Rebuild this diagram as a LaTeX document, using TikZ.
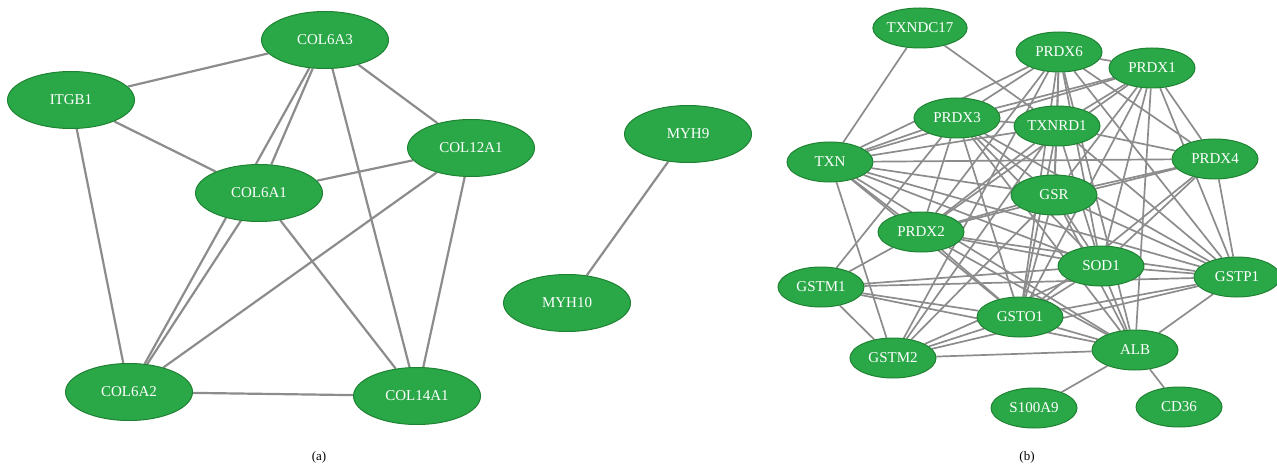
\documentclass[tikz,border=0pt]{standalone}
\usepackage{fontspec}
\setmainfont{Liberation Serif}
\usetikzlibrary{shapes.geometric,backgrounds}
\definecolor{ngreen}{RGB}{42,168,72}
\definecolor{nborder}{RGB}{30,130,50}
\definecolor{egray}{RGB}{140,140,140}
\tikzset{
 gA/.style={ellipse, fill=ngreen, draw=nborder, line width=1pt, minimum width=127pt, minimum height=57pt, inner sep=0pt, text=white, font=\fontsize{15}{15}\selectfont},
 gB/.style={ellipse, fill=ngreen, draw=nborder, line width=1pt, minimum width=86pt, minimum height=40pt, inner sep=0pt, text=white, font=\fontsize{15}{15}\selectfont},
 edgeA/.style={draw=egray, line width=2.2pt},
 edgeB/.style={draw=egray, line width=1.7pt},
 caplabel/.style={font=\fontsize{13}{13}\selectfont, text=black, inner sep=0pt}
}
\begin{document}
\begin{tikzpicture}[x=1pt,y=-1pt]
\useasboundingbox (0,0) rectangle (1277,468);
% ---- panel (a)
\node[gA] (itgb1) at (71,100) {ITGB1};
\node[gA] (col6a3) at (325,40) {COL6A3};
\node[gA] (col12a1) at (471,148) {COL12A1};
\node[gA] (col6a1) at (259,193) {COL6A1};
\node[gA] (col6a2) at (129,392) {COL6A2};
\node[gA] (col14a1) at (417,396) {COL14A1};
\node[gA] (myh9) at (688,134) {MYH9};
\node[gA] (myh10) at (567,303) {MYH10};
\node[caplabel] (capa) at (319,457) {(a)};
% ---- panel (b)
\node[gB] (txndc) at (920,28) {TXNDC17};
\node[gB] (prdx6) at (1059,52) {PRDX6};
\node[gB] (prdx1) at (1152,68) {PRDX1};
\node[gB] (prdx3) at (957,118) {PRDX3};
\node[gB] (txnrd) at (1057,126) {TXNRD1};
\node[gB] (txn) at (830,162) {TXN};
\node[gB] (prdx4) at (1215,159) {PRDX4};
\node[gB] (gsr) at (1054,195) {GSR};
\node[gB] (prdx2) at (921,232) {PRDX2};
\node[gB] (sod) at (1101,266) {SOD1};
\node[gB] (gstp) at (1237,277) {GSTP1};
\node[gB] (gstm1) at (821,287) {GSTM1};
\node[gB] (gsto) at (1020,317) {GSTO1};
\node[gB] (gstm2) at (893,358) {GSTM2};
\node[gB] (alb) at (1135,350) {ALB};
\node[gB] (s100) at (1034,408) {S100A9};
\node[gB] (cd36) at (1179,407) {CD36};
\node[caplabel] (capb) at (1027,457) {(b)};
\begin{scope}[on background layer]
\foreach \a/\b in {itgb1/col6a3, itgb1/col6a1, itgb1/col6a2, col6a3/col6a1, col6a3/col6a2,
  col6a3/col12a1, col6a3/col14a1, col12a1/col6a1, col12a1/col6a2, col12a1/col14a1,
  col6a1/col6a2, col6a1/col14a1, col6a2/col14a1, myh9/myh10}
  \draw[edgeA] (\a) -- (\b);
\foreach \a/\b in {txndc/txn, txndc/txnrd,
  txn/prdx3, txn/prdx6, txn/prdx1, txn/txnrd, txn/prdx4, txn/gsr, txn/prdx2, txn/sod, txn/gstp, txn/gsto, txn/alb, txn/gstm2,
  prdx3/prdx6, prdx3/prdx1, prdx3/txnrd, prdx3/prdx2, prdx3/gsr, prdx3/sod, prdx3/gsto, prdx3/gstp, prdx3/alb,
  prdx6/prdx1, prdx6/txnrd, prdx6/gsr, prdx6/prdx2, prdx6/sod, prdx6/gsto, prdx6/alb, prdx6/prdx4, prdx6/gstp, prdx6/gstm2,
  prdx1/txnrd, prdx1/gsr, prdx1/prdx2, prdx1/sod, prdx1/gsto, prdx1/prdx4, prdx1/gstp, prdx1/alb,
  txnrd/gsr, txnrd/prdx2, txnrd/sod, txnrd/gsto, txnrd/prdx4, txnrd/gstp, txnrd/gstm2,
  prdx4/gsr, prdx4/prdx2, prdx4/sod, prdx4/gstp, prdx4/gsto,
  gsr/prdx2, gsr/sod, gsr/gsto, gsr/gstp, gsr/alb, gsr/gstm2,
  prdx2/sod, prdx2/gsto, prdx2/gstp, prdx2/alb, prdx2/gstm1,
  gstm1/gstm2, gstm1/sod, gstm1/gstp, gstm1/gsto, gstm1/alb, gstm1/prdx3,
  gstm2/gsto, gstm2/alb, gstm2/sod, gstm2/gstp,
  gsto/sod, gsto/gstp, gsto/alb, sod/gstp, sod/alb, gstp/alb,
  alb/s100, alb/cd36}
  \draw[edgeB] (\a) -- (\b);
\end{scope}
\end{tikzpicture}
\end{document}
